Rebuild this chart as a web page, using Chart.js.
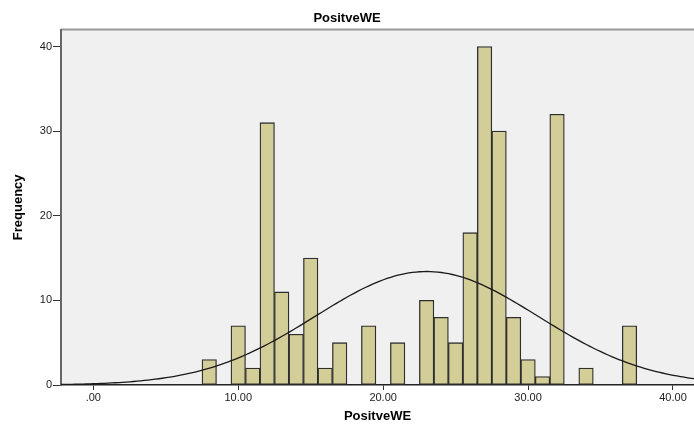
<!DOCTYPE html>
<html>
<head>
<meta charset="utf-8">
<script src="https://cdn.jsdelivr.net/npm/chart.js@4"></script>
<style>
  body { margin: 0; background: #fff; }
  canvas { display: block; }
</style>
</head>
<body>
<canvas id="chart" width="694" height="424"></canvas>
<script>
// histogram: bin centres and counts
const bins = [8, 10, 11, 12, 13, 14, 15, 16, 17, 19, 21, 23, 24, 25, 26, 27, 28, 29, 30, 31, 32, 34, 37];
const freqs = [3, 7, 2, 31, 11, 6, 15, 2, 5, 7, 5, 10, 8, 5, 18, 40, 30, 8, 3, 1, 32, 2, 7];

const xTicks = [0, 10, 20, 30, 40];
const xTickLabels = ['.00', '10.00', '20.00', '30.00', '40.00'];
const yTicks = [0, 10, 20, 30, 40];
const yTickLabels = ['0', '10', '20', '30', '40'];

const X_MIN = -2.23;
const X_MAX = 41.45;
const Y_MAX = 42;

const font = "'Liberation Sans', Arial, sans-serif";

// normal curve fitted to the histogram (mean / sd of the binned data)
const n = freqs.reduce((a, b) => a + b, 0);
const mean = bins.reduce((s, x, i) => s + x * freqs[i], 0) / n;
const sd = Math.sqrt(bins.reduce((s, x, i) => s + freqs[i] * (x - mean) ** 2, 0) / (n - 1));
function normalCount(x) {
    return n * Math.exp(-0.5 * ((x - mean) / sd) ** 2) / (sd * Math.sqrt(2 * Math.PI));
}
const curve = [];
for (let x = X_MIN; x < X_MAX; x += 0.25) {
    curve.push({ x: x, y: normalCount(x) });
}
curve.push({ x: X_MAX, y: normalCount(X_MAX) });

// grey plot area with the top frame line
const plotBg = {
    id: 'plotBg',
    beforeDraw(chart) {
        const { ctx, chartArea: a } = chart;
        ctx.save();
        ctx.fillStyle = '#f0f0f0';
        ctx.fillRect(a.left, a.top, a.right - a.left, a.bottom - a.top);
        ctx.strokeStyle = '#9a9a9a';
        ctx.lineWidth = 2;
        ctx.beginPath();
        ctx.moveTo(a.left, a.top);
        ctx.lineTo(a.right, a.top);
        ctx.stroke();
        ctx.restore();
    }
};

const ctx = document.getElementById('chart').getContext('2d');
new Chart(ctx, {
    type: 'bar',
    data: {
        datasets: [{
            type: 'line',
            data: curve,
            borderColor: '#1a1a1a',
            borderWidth: 1.3,
            pointRadius: 0,
            tension: 0,
            order: 0
        }, {
            type: 'bar',
            data: bins.map((b, i) => ({ x: b, y: freqs[i] })),
            backgroundColor: '#d3ce97',
            borderColor: '#2e2e2e',
            borderWidth: 1.3,
            borderSkipped: false,
            barPercentage: 1,
            categoryPercentage: 1,
            order: 1
        }]
    },
    options: {
        responsive: false,
        devicePixelRatio: 1,
        animation: false,
        layout: { padding: 0 },
        plugins: {
            legend: { display: false },
            tooltip: { enabled: false },
            title: {
                display: true,
                text: 'PositveWE',
                color: '#000',
                font: { family: font, size: 13, weight: 'bold', lineHeight: 1.2 },
                padding: { top: 11, bottom: 3 }
            }
        },
        scales: {
            x: {
                type: 'linear',
                min: X_MIN,
                max: X_MAX,
                offset: false,
                afterFit: (scale) => { scale.height = 39; },
                afterBuildTicks: (scale) => { scale.ticks = xTicks.map(v => ({ value: v })); },
                ticks: {
                    color: '#222',
                    font: { family: font, size: 11 },
                    padding: 1,
                    maxRotation: 0,
                    callback: (value) => xTickLabels[xTicks.indexOf(value)]
                },
                grid: {
                    offset: false,
                    drawOnChartArea: false,
                    drawTicks: true,
                    tickLength: 5,
                    tickColor: '#333',
                    tickWidth: 1
                },
                border: { display: true, color: '#222', width: 1.5 },
                title: {
                    display: true,
                    text: 'PositveWE',
                    color: '#000',
                    font: { family: font, size: 13, weight: 'bold', lineHeight: 1.2 },
                    padding: { top: 0, bottom: 0 }
                }
            },
            y: {
                min: 0,
                max: Y_MAX,
                afterFit: (scale) => { scale.width = 61; },
                afterBuildTicks: (scale) => { scale.ticks = yTicks.map(v => ({ value: v })); },
                ticks: {
                    color: '#222',
                    font: { family: font, size: 11 },
                    padding: 1,
                    callback: (value) => yTickLabels[yTicks.indexOf(value)]
                },
                grid: {
                    drawOnChartArea: false,
                    drawTicks: true,
                    tickLength: 8,
                    tickColor: '#333',
                    tickWidth: 1
                },
                border: { display: true, color: '#666', width: 2 },
                title: {
                    display: true,
                    text: 'Frequency',
                    color: '#000',
                    font: { family: font, size: 13, weight: 'bold', lineHeight: 1.2 },
                    padding: { top: 11, bottom: 0 }
                }
            }
        }
    },
    plugins: [plotBg]
});
</script>
</body>
</html>
